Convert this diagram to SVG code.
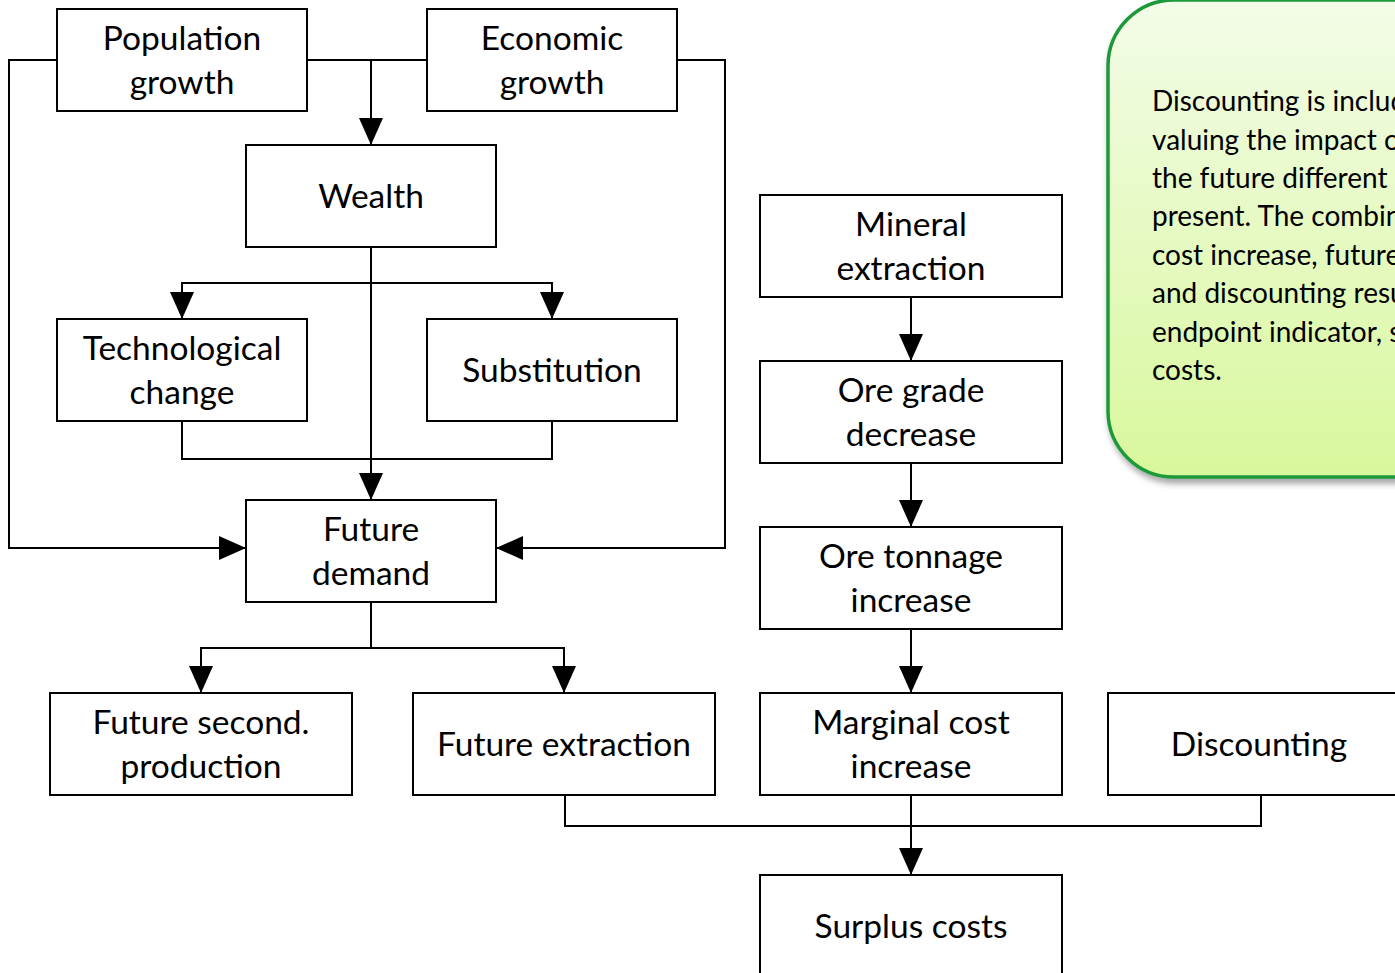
<svg xmlns="http://www.w3.org/2000/svg" width="1395" height="973" viewBox="0 0 1395 973">
<defs>
<style>
.box{fill:#fff;stroke:#000;stroke-width:2}
.t{font-family:Lato,"Liberation Sans",sans-serif;font-size:33.5px;fill:#000;text-anchor:middle}
.c{fill:none;stroke:#000;stroke-width:2}
.ct{font-family:Lato,"Liberation Sans",sans-serif;font-size:28px;fill:#000}
</style>
<marker id="ah" viewBox="0 0 27 24" refX="27" refY="12" markerWidth="27" markerHeight="24" markerUnits="userSpaceOnUse" orient="auto">
<path d="M0,0 L27,12 L0,24 Z" fill="#000"/>
</marker>
<linearGradient id="g" x1="0" y1="0" x2="0" y2="1">
<stop offset="0" stop-color="#f3fce8"/>
<stop offset="1" stop-color="#d8f89c"/>
</linearGradient>
<filter id="sh" x="-10%" y="-10%" width="130%" height="130%">
<feDropShadow dx="2" dy="5" stdDeviation="3" flood-color="#000" flood-opacity="0.35"/>
</filter>
</defs>
<rect width="1395" height="973" fill="#fff"/>
<g id="connectors">
<path class="c" d="M307,60 H427"/>
<path class="c" d="M371,60 V145" marker-end="url(#ah)"/>
<path class="c" d="M57,60 H9 V548 H246" marker-end="url(#ah)"/>
<path class="c" d="M677,60 H725 V548 H496" marker-end="url(#ah)"/>
<path class="c" d="M371,247 V500" marker-end="url(#ah)"/>
<path class="c" d="M371,283 H182 V319" marker-end="url(#ah)"/>
<path class="c" d="M371,283 H552 V319" marker-end="url(#ah)"/>
<path class="c" d="M182,421 V459 H552 V421"/>
<path class="c" d="M371,602 V648 H201 V693" marker-end="url(#ah)"/>
<path class="c" d="M371,648 H564 V693" marker-end="url(#ah)"/>
<path class="c" d="M911,297 V361" marker-end="url(#ah)"/>
<path class="c" d="M911,463 V527" marker-end="url(#ah)"/>
<path class="c" d="M911,629 V693" marker-end="url(#ah)"/>
<path class="c" d="M911,795 V875" marker-end="url(#ah)"/>
<path class="c" d="M565,795 V826 H1261 V795"/>
</g>
<g id="n-population"><rect class="box" x="57" y="9" width="250" height="102"/><text class="t" x="182" y="50">Population</text><text class="t" x="182" y="94">growth</text></g>
<g id="n-economic"><rect class="box" x="427" y="9" width="250" height="102"/><text class="t" x="552" y="50">Economic</text><text class="t" x="552" y="94">growth</text></g>
<g id="n-wealth"><rect class="box" x="246" y="145" width="250" height="102"/><text class="t" x="371" y="208">Wealth</text></g>
<g id="n-tech"><rect class="box" x="57" y="319" width="250" height="102"/><text class="t" x="182" y="360">Technological</text><text class="t" x="182" y="404">change</text></g>
<g id="n-subst"><rect class="box" x="427" y="319" width="250" height="102"/><text class="t" x="552" y="382">Substitution</text></g>
<g id="n-demand"><rect class="box" x="246" y="500" width="250" height="102"/><text class="t" x="371" y="541">Future</text><text class="t" x="371" y="585">demand</text></g>
<g id="n-second"><rect class="box" x="50" y="693" width="302" height="102"/><text class="t" x="201" y="734">Future second.</text><text class="t" x="201" y="778">production</text></g>
<g id="n-fextract"><rect class="box" x="413" y="693" width="302" height="102"/><text class="t" x="564" y="756">Future extraction</text></g>
<g id="n-mineral"><rect class="box" x="760" y="195" width="302" height="102"/><text class="t" x="911" y="236">Mineral</text><text class="t" x="911" y="280">extraction</text></g>
<g id="n-oregrade"><rect class="box" x="760" y="361" width="302" height="102"/><text class="t" x="911" y="402">Ore grade</text><text class="t" x="911" y="446">decrease</text></g>
<g id="n-oreton"><rect class="box" x="760" y="527" width="302" height="102"/><text class="t" x="911" y="568">Ore tonnage</text><text class="t" x="911" y="612">increase</text></g>
<g id="n-marginal"><rect class="box" x="760" y="693" width="302" height="102"/><text class="t" x="911" y="734">Marginal cost</text><text class="t" x="911" y="778">increase</text></g>
<g id="n-discount"><rect class="box" x="1108" y="693" width="302" height="102"/><text class="t" x="1259" y="756">Discounting</text></g>
<g id="n-surplus"><rect class="box" x="760" y="875" width="302" height="102"/><text class="t" x="911" y="938">Surplus costs</text></g>
<g id="callout">
<rect x="1108" y="0" width="400" height="477" rx="66" ry="66" fill="url(#g)" stroke="#1f9a3a" stroke-width="3.5" filter="url(#sh)"/>
<text class="ct" x="1152" y="111">Discounting is included for</text>
<text class="ct" x="1152" y="150">valuing the impact of costs in</text>
<text class="ct" x="1152" y="188">the future different from the</text>
<text class="ct" x="1152" y="226">present. The combination of</text>
<text class="ct" x="1152" y="265">cost increase, future extraction</text>
<text class="ct" x="1152" y="303">and discounting results in the</text>
<text class="ct" x="1152" y="342">endpoint indicator, surplus</text>
<text class="ct" x="1152" y="380">costs.</text>
</g>
</svg>
